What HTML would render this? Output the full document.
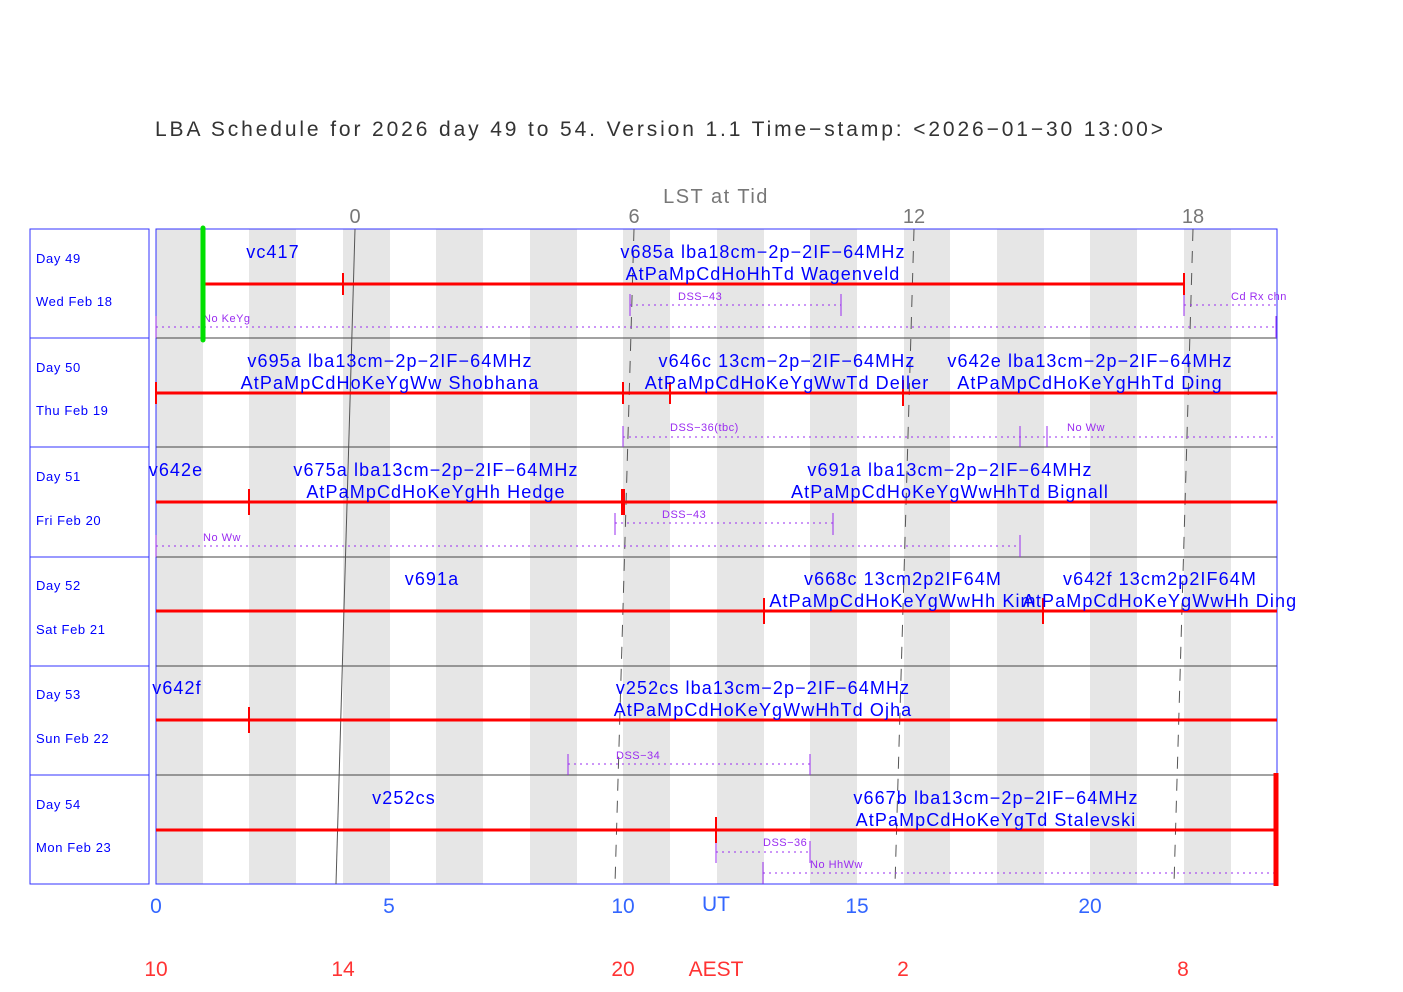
<!DOCTYPE html>
<html><head><meta charset="utf-8"><style>
html,body{margin:0;padding:0;background:#fff;}
svg{display:block;font-family:"Liberation Sans",sans-serif;}
.t{fill:#0000ff;font-size:18px;text-anchor:middle;letter-spacing:1.1px;}
.s{fill:#9a2cf0;font-size:11px;letter-spacing:0.5px;}
.d{fill:#0000ff;font-size:13px;letter-spacing:0.6px;}
</style></head><body>
<svg width="1403" height="992" viewBox="0 0 1403 992">
<text x="155" y="136" font-size="21" fill="#333" textLength="1008" lengthAdjust="spacing">LBA Schedule for 2026 day 49 to 54. Version 1.1 Time−stamp: &lt;2026−01−30 13:00&gt;</text>
<text x="716" y="203" font-size="20" fill="#777" text-anchor="middle" letter-spacing="1.5">LST at Tid</text>
<g font-size="20" fill="#777" text-anchor="middle">
<text x="355" y="223">0</text><text x="634" y="223">6</text><text x="914" y="223">12</text><text x="1193" y="223">18</text>
</g>
<!-- stripes -->
<g fill="#e6e6e6">
<rect x="156" y="229" width="47" height="655"/><rect x="249" y="229" width="47" height="655"/>
<rect x="343" y="229" width="47" height="655"/><rect x="436" y="229" width="47" height="655"/>
<rect x="530" y="229" width="47" height="655"/><rect x="623" y="229" width="47" height="655"/>
<rect x="717" y="229" width="47" height="655"/><rect x="810" y="229" width="47" height="655"/>
<rect x="904" y="229" width="46" height="655"/><rect x="997" y="229" width="47" height="655"/>
<rect x="1090" y="229" width="47" height="655"/><rect x="1184" y="229" width="47" height="655"/>
</g>
<!-- row separators -->
<g stroke="#444" stroke-width="1">
<line x1="156" y1="338" x2="1277" y2="338"/><line x1="156" y1="447" x2="1277" y2="447"/>
<line x1="156" y1="557" x2="1277" y2="557"/><line x1="156" y1="666" x2="1277" y2="666"/>
<line x1="156" y1="775" x2="1277" y2="775"/>
</g>
<rect x="156" y="229" width="1121" height="655" fill="none" stroke="#3333ff" stroke-width="1"/>
<!-- left boxes -->
<g fill="none" stroke="#3333ff">
<rect x="30" y="229" width="119" height="109"/><rect x="30" y="338" width="119" height="109"/>
<rect x="30" y="447" width="119" height="110"/><rect x="30" y="557" width="119" height="109"/>
<rect x="30" y="666" width="119" height="109"/><rect x="30" y="775" width="119" height="109"/>
</g>
<g class="d">
<text x="36" y="263" class="d">Day 49</text><text x="36" y="306" class="d">Wed Feb 18</text>
<text x="36" y="372" class="d">Day 50</text><text x="36" y="415" class="d">Thu Feb 19</text>
<text x="36" y="481" class="d">Day 51</text><text x="36" y="525" class="d">Fri Feb 20</text>
<text x="36" y="590" class="d">Day 52</text><text x="36" y="634" class="d">Sat Feb 21</text>
<text x="36" y="699" class="d">Day 53</text><text x="36" y="743" class="d">Sun Feb 22</text>
<text x="36" y="809" class="d">Day 54</text><text x="36" y="852" class="d">Mon Feb 23</text>
</g>
<!-- LST lines -->
<line x1="355" y1="229" x2="336" y2="884" stroke="#555" stroke-width="1"/>
<g stroke="#555" stroke-width="1" stroke-dasharray="12,10">
<line x1="634" y1="229" x2="615" y2="884"/><line x1="914" y1="229" x2="895" y2="884"/><line x1="1193" y1="229" x2="1174" y2="884"/>
</g>
<!-- small purple -->
<g stroke="#9a2cf0" stroke-width="1">
<g stroke-dasharray="2,4">
<line x1="630" y1="305" x2="841" y2="305"/><line x1="1184" y1="305" x2="1277" y2="305"/>
<line x1="156" y1="327" x2="1277" y2="327"/>
<line x1="623" y1="437" x2="1277" y2="437"/>
<line x1="615" y1="523" x2="833" y2="523"/><line x1="156" y1="546" x2="1020" y2="546"/>
<line x1="568" y1="764" x2="810" y2="764"/>
<line x1="716" y1="852" x2="810" y2="852"/><line x1="763" y1="873" x2="1277" y2="873"/>
</g>
<line x1="630" y1="294" x2="630" y2="316"/><line x1="841" y1="294" x2="841" y2="316"/>
<line x1="1184" y1="294" x2="1184" y2="316"/>
<line x1="156" y1="316" x2="156" y2="338"/><line x1="1276" y1="316" x2="1276" y2="338"/>
<line x1="623" y1="426" x2="623" y2="447"/><line x1="1020" y1="426" x2="1020" y2="447"/><line x1="1047" y1="426" x2="1047" y2="447"/>
<line x1="615" y1="513" x2="615" y2="535"/><line x1="833" y1="513" x2="833" y2="535"/>
<line x1="156" y1="535" x2="156" y2="557"/><line x1="1020" y1="535" x2="1020" y2="557"/>
<line x1="568" y1="754" x2="568" y2="775"/><line x1="810" y1="754" x2="810" y2="775"/>
<line x1="716" y1="841" x2="716" y2="863"/><line x1="810" y1="841" x2="810" y2="863"/>
<line x1="763" y1="862" x2="763" y2="884"/>
</g>
<g class="s">
<text x="678" y="300">DSS−43</text><text x="1231" y="300">Cd Rx chn</text><text x="203" y="322">No KeYg</text>
<text x="670" y="431">DSS−36(tbc)</text><text x="1067" y="431">No Ww</text>
<text x="662" y="518">DSS−43</text><text x="203" y="541">No Ww</text>
<text x="616" y="759">DSS−34</text>
<text x="763" y="846">DSS−36</text><text x="810" y="868">No HhWw</text>
</g>
<!-- red bars -->
<g stroke="#ff0000" stroke-width="3">
<line x1="203" y1="284" x2="1184" y2="284"/>
<line x1="156" y1="393" x2="1277" y2="393"/>
<line x1="156" y1="502" x2="1277" y2="502"/>
<line x1="156" y1="611" x2="1277" y2="611"/>
<line x1="156" y1="720" x2="1277" y2="720"/>
<line x1="156" y1="830" x2="1277" y2="830"/>
</g>
<g stroke="#ff0000" stroke-width="2">
<line x1="203" y1="273" x2="203" y2="295"/><line x1="343" y1="273" x2="343" y2="295"/><line x1="1184" y1="273" x2="1184" y2="295"/>
<line x1="156" y1="382" x2="156" y2="404"/><line x1="623" y1="382" x2="623" y2="404"/><line x1="670" y1="382" x2="670" y2="404"/><line x1="903" y1="380" x2="903" y2="406"/>
<line x1="249" y1="489" x2="249" y2="515"/>
<line x1="764" y1="598" x2="764" y2="624"/><line x1="1043" y1="598" x2="1043" y2="624"/>
<line x1="249" y1="707" x2="249" y2="733"/>
<line x1="716" y1="817" x2="716" y2="843"/>
</g>
<line x1="623" y1="489" x2="623" y2="515" stroke="#ff0000" stroke-width="4"/>
<line x1="1276" y1="773" x2="1276" y2="886" stroke="#ff0000" stroke-width="5"/>
<line x1="203" y1="228" x2="203" y2="340" stroke="#00e000" stroke-width="5" stroke-linecap="round"/>
<!-- labels -->
<g class="t">
<text x="273" y="258">vc417</text>
<text x="763" y="258">v685a lba18cm−2p−2IF−64MHz</text>
<text x="763" y="280">AtPaMpCdHoHhTd Wagenveld</text>
<text x="390" y="367">v695a lba13cm−2p−2IF−64MHz</text>
<text x="390" y="389">AtPaMpCdHoKeYgWw Shobhana</text>
<text x="787" y="367">v646c 13cm−2p−2IF−64MHz</text>
<text x="787" y="389">AtPaMpCdHoKeYgWwTd Deller</text>
<text x="1090" y="367">v642e lba13cm−2p−2IF−64MHz</text>
<text x="1090" y="389">AtPaMpCdHoKeYgHhTd Ding</text>
<text x="176" y="476">v642e</text>
<text x="436" y="476">v675a lba13cm−2p−2IF−64MHz</text>
<text x="436" y="498">AtPaMpCdHoKeYgHh Hedge</text>
<text x="950" y="476">v691a lba13cm−2p−2IF−64MHz</text>
<text x="950" y="498">AtPaMpCdHoKeYgWwHhTd Bignall</text>
<text x="432" y="585">v691a</text>
<text x="903" y="585">v668c 13cm2p2IF64M</text>
<text x="903" y="607">AtPaMpCdHoKeYgWwHh Kim</text>
<text x="1160" y="585">v642f 13cm2p2IF64M</text>
<text x="1160" y="607">AtPaMpCdHoKeYgWwHh Ding</text>
<text x="177" y="694">v642f</text>
<text x="763" y="694">v252cs lba13cm−2p−2IF−64MHz</text>
<text x="763" y="716">AtPaMpCdHoKeYgWwHhTd Ojha</text>
<text x="404" y="804">v252cs</text>
<text x="996" y="804">v667b lba13cm−2p−2IF−64MHz</text>
<text x="996" y="826">AtPaMpCdHoKeYgTd Stalevski</text>
</g>
<g font-size="21" fill="#3366ff" text-anchor="middle">
<text x="156" y="913">0</text><text x="389" y="913">5</text><text x="623" y="913">10</text><text x="716" y="911">UT</text>
<text x="857" y="913">15</text><text x="1090" y="913">20</text>
</g>
<g font-size="21" fill="#ff3333" text-anchor="middle">
<text x="156" y="976">10</text><text x="343" y="976">14</text><text x="623" y="976">20</text><text x="716" y="976">AEST</text>
<text x="903" y="976">2</text><text x="1183" y="976">8</text>
</g>
</svg>
</body></html>
